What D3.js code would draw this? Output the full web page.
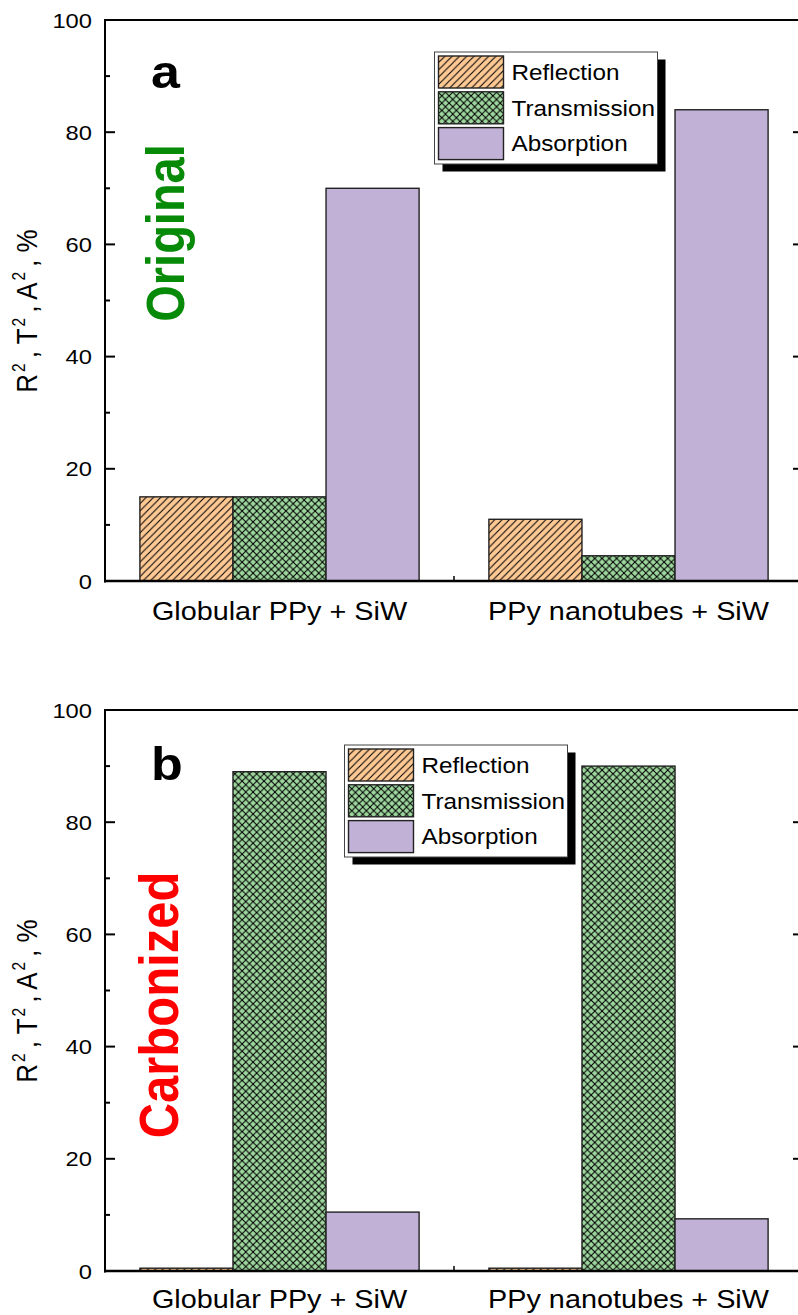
<!DOCTYPE html>
<html>
<head>
<meta charset="utf-8">
<script src="https://cdn.jsdelivr.net/npm/d3@7"></script>
<style>
  html, body { margin: 0; padding: 0; background: #fff; }
  svg { display: block; }
  text { font-family: "Liberation Sans", Arial, sans-serif; }
</style>
</head>
<body>
<svg id="chart" width="798" height="1315"></svg>
<script>
// ---------------- DATA ----------------
const categories = ["Globular PPy + SiW", "PPy nanotubes + SiW"];
const seriesNames = ["Reflection", "Transmission", "Absorption"];

// Panel a (Original)
const origReflection   = [15, 11];
const origTransmission = [15, 4.5];
const origAbsorption   = [70, 84];

// Panel b (Carbonized)
const carbReflection   = [0.5, 0.5];
const carbTransmission = [89, 90];
const carbAbsorption   = [10.5, 9.3];

const yMajorTicks = [0, 20, 40, 60, 80, 100];
const yMinorTicks = [10, 30, 50, 70, 90];
const yAxisTitle = ["R", "2", ", T", "2", ", A", "2", ", %"];

// ---------------- STYLE ----------------
const SX = 1.13; // horizontal stretch of text in the reference
const fills = { Reflection: "#FFC994", Transmission: "#9ED79E", Absorption: "#C1B1D6" };
const svg = d3.select("#chart");
const defs = svg.append("defs");

function hatchPattern(id, bg, cross) {
  const w = 7.3;
  const p = defs.append("pattern").attr("id", id)
    .attr("patternUnits", "userSpaceOnUse").attr("width", w).attr("height", w);
  p.append("rect").attr("width", w).attr("height", w).attr("fill", bg);
  p.append("path").attr("d", `M-1,1 L1,-1 M0,${w} L${w},0 M${w-1},${w+1} L${w+1},${w-1}`)
    .attr("stroke", "#000").attr("stroke-width", 1.05);
  if (cross) {
    p.append("path").attr("d", `M-1,${w-1} L1,${w+1} M0,0 L${w},${w} M${w-1},-1 L${w+1},1`)
      .attr("stroke", "#000").attr("stroke-width", 1.05);
  }
}
hatchPattern("pat-refl", fills.Reflection, false);
hatchPattern("pat-trans", fills.Transmission, true);
const fillFor = { Reflection: "url(#pat-refl)", Transmission: "url(#pat-trans)", Absorption: fills.Absorption };

function stretchedText(g, x, y, str, opts) {
  const grp = g.append("g").attr("transform", `translate(${x},${y}) scale(${SX},1)` + (opts.rotate ? ` rotate(${opts.rotate})` : ""));
  const t = grp.append("text")
    .attr("x", 0).attr("y", 0)
    .attr("font-size", opts.size)
    .attr("text-anchor", opts.anchor || "start")
    .attr("fill", opts.fill || "#000")
    .attr("font-weight", opts.weight || "normal")
    .text(str);
  if (opts.dy) t.attr("dy", opts.dy);
  return t;
}

function drawPanel(cfg) {
  const g = svg.append("g");
  const left = 105, right = 803, top = cfg.top, bottom = cfg.bottom;

  const x0 = d3.scaleBand().domain(categories).range([left, right])
    .paddingInner(0.2).paddingOuter(0.1);
  const x1 = d3.scaleBand().domain(seriesNames).range([0, x0.bandwidth()]).padding(0);
  const y = d3.scaleLinear().domain([0, 100]).range([bottom, top]);
  const xc = d3.scaleLinear().domain([0.5, 2.5]).range([left, right]);

  // ticks (drawn under bars)
  const tickG = g.append("g").attr("stroke", "#000").attr("stroke-width", 2);
  yMajorTicks.forEach(v => {
    tickG.append("line").attr("x1", left).attr("x2", left + 10).attr("y1", y(v)).attr("y2", y(v));
    tickG.append("line").attr("x1", right).attr("x2", right - 10).attr("y1", y(v)).attr("y2", y(v));
  });
  yMinorTicks.forEach(v => {
    tickG.append("line").attr("x1", left).attr("x2", left + 5).attr("y1", y(v)).attr("y2", y(v));
    tickG.append("line").attr("x1", right).attr("x2", right - 5).attr("y1", y(v)).attr("y2", y(v));
  });
  [1.5].forEach(v => {
    tickG.append("line").attr("x1", xc(v)).attr("x2", xc(v)).attr("y1", bottom).attr("y2", bottom - 5).attr("stroke-width", 1.5);
  });
  [1, 2].forEach(v => {
    tickG.append("line").attr("x1", xc(v)).attr("x2", xc(v)).attr("y1", bottom).attr("y2", bottom - 10);
  });

  // bars
  const rows = categories.map((c, i) => ({ cat: c, vals: seriesNames.map((s, j) => ({ s, v: cfg.values[j][i] })) }));
  const grp = g.selectAll("g.grp").data(rows).join("g").attr("class", "grp")
    .attr("transform", d => `translate(${x0(d.cat)},0)`);
  grp.selectAll("rect").data(d => d.vals).join("rect")
    .attr("x", d => x1(d.s))
    .attr("y", d => y(d.v))
    .attr("width", x1.bandwidth())
    .attr("height", d => y(0) - y(d.v))
    .attr("fill", d => fillFor[d.s])
    .attr("stroke", "#222")
    .attr("stroke-width", 1.4);

  // frame
  const fr = g.append("g").attr("stroke", "#000").attr("fill", "none");
  fr.append("line").attr("x1", left).attr("x2", left).attr("y1", top - 1).attr("y2", bottom + 1.5).attr("stroke-width", 2);
  fr.append("line").attr("x1", left - 1).attr("x2", right).attr("y1", top).attr("y2", top).attr("stroke-width", 2);
  fr.append("line").attr("x1", left - 1).attr("x2", right).attr("y1", bottom).attr("y2", bottom).attr("stroke-width", 2.5);
  fr.append("line").attr("x1", right).attr("x2", right).attr("y1", top).attr("y2", bottom).attr("stroke-width", 2);

  // y tick labels
  yMajorTicks.forEach(v => {
    stretchedText(g, 92, y(v), String(v), { size: 21, anchor: "end", dy: "0.36em" });
  });

  // category labels
  categories.forEach((c, i) => {
    stretchedText(g, x0(c) + x0.bandwidth() / 2, cfg.catBaseline, c, { size: 25.5, anchor: "middle" });
  });

  // y axis title
  const tg = g.append("g").attr("transform", `translate(37,${cfg.titleY}) scale(${SX},1) rotate(-90)`);
  const tt = tg.append("text").attr("text-anchor", "middle").attr("font-size", 26);
  yAxisTitle.forEach((s, i) => {
    const sup = i % 2 === 1;
    const ts = tt.append("tspan").text(s);
    if (sup) ts.attr("font-size", 15.5).attr("dy", -10.5).attr("dx", 2);
    else if (i > 0) ts.attr("dy", 10.5).attr("dx", 5);
  });

  // panel letter
  stretchedText(g, 151, cfg.letterBaseline, cfg.letter, { size: 46, weight: "bold" });

  // vertical label
  const vg = g.append("g").attr("transform", `translate(${cfg.vlabelX},${cfg.vlabelY}) scale(${SX},1) rotate(-90)`);
  vg.append("text").attr("text-anchor", "middle").attr("font-size", cfg.vlabelSize)
    .attr("font-weight", "bold").attr("fill", cfg.vlabelColor).text(cfg.vlabel);

  // legend
  const L = g.append("g").attr("transform", `translate(${cfg.legendX},${cfg.legendY})`);
  L.append("rect").attr("x", 8).attr("y", 7.5).attr("width", 223).attr("height", 112).attr("fill", "#000");
  L.append("rect").attr("x", 0).attr("y", 0).attr("width", 223).attr("height", 112)
    .attr("fill", "#fff").attr("stroke", "#444").attr("stroke-width", 1);
  seriesNames.forEach((s, i) => {
    const ry = 4 + i * 35.8;
    L.append("rect").attr("x", 4).attr("y", ry).attr("width", 65).attr("height", 32)
      .attr("fill", fillFor[s]).attr("stroke", "#222").attr("stroke-width", 1.4);
    stretchedText(L, 77, ry + 16, s, { size: 21.5, dy: "0.36em" });
  });
}

drawPanel({
  top: 20, bottom: 581,
  values: [origReflection, origTransmission, origAbsorption],
  catBaseline: 620, titleY: 311,
  letter: "a", letterBaseline: 88,
  vlabel: "Original", vlabelColor: "#078A07", vlabelX: 184, vlabelY: 233, vlabelSize: 47,
  legendX: 434.5, legendY: 52
});
drawPanel({
  top: 710, bottom: 1271,
  values: [carbReflection, carbTransmission, carbAbsorption],
  catBaseline: 1308, titleY: 1001,
  letter: "b", letterBaseline: 780,
  vlabel: "Carbonized", vlabelColor: "#FF0000", vlabelX: 178, vlabelY: 1005, vlabelSize: 49,
  legendX: 344.5, legendY: 745
});
</script>
</body>
</html>
